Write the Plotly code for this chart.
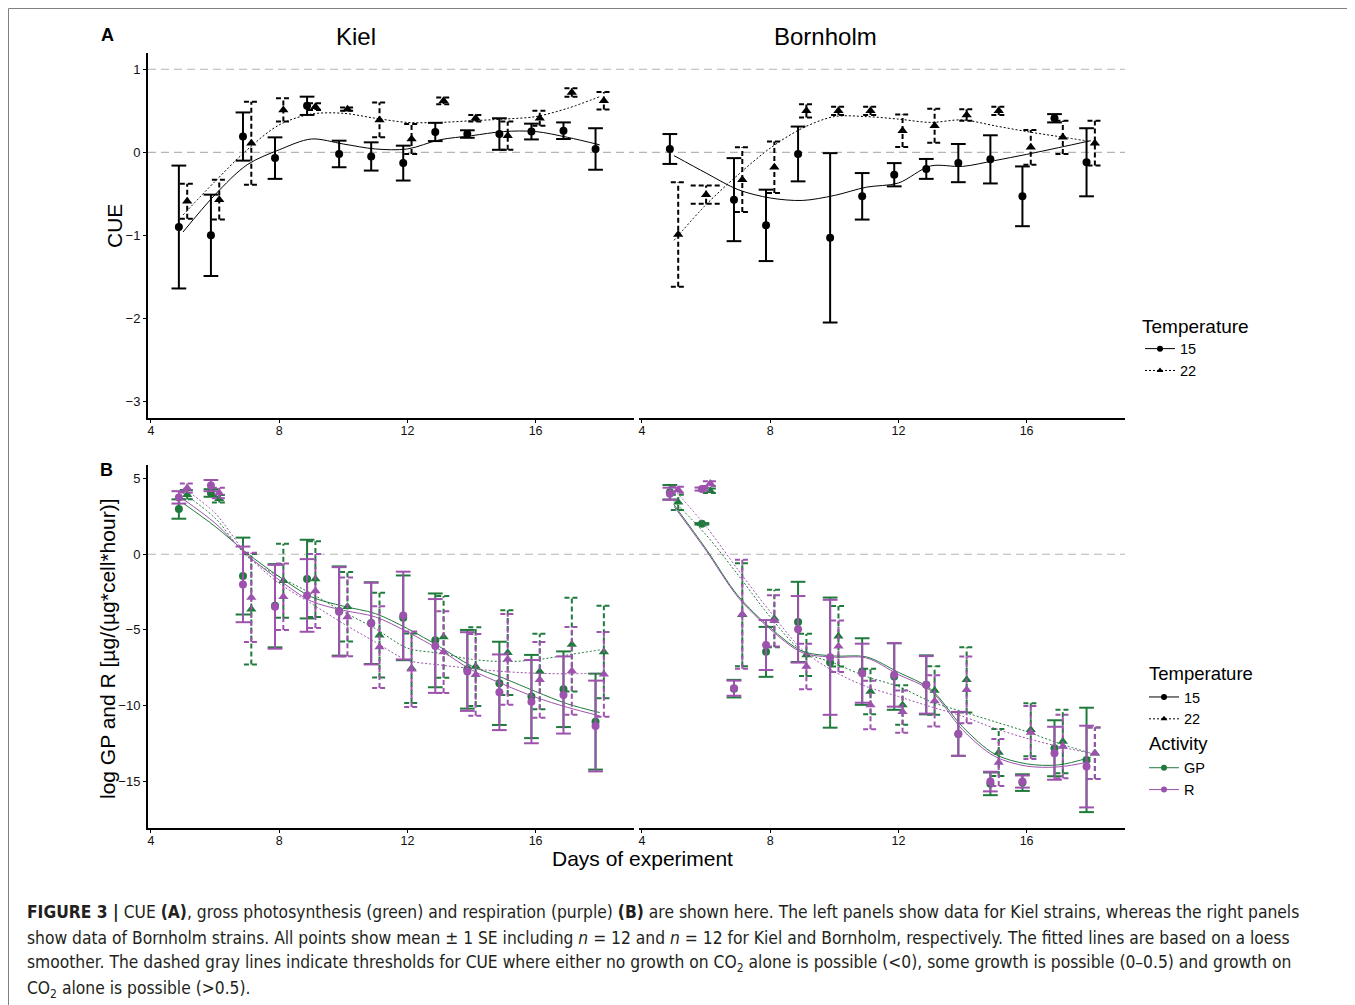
import plotly.graph_objects as go

# ---------------- DATA ----------------
days = list(range(5, 19))
x_ticks = [4, 8, 12, 16]
ticks_cue = [-3, -2, -1, 0, 1]
ticks_log = [-15, -10, -5, 0, 5]

# Panel A: CUE, Kiel
cue_kiel_15 = [-0.90, -1.00, 0.19, -0.07, 0.56, -0.02, -0.05, -0.13, 0.245, 0.22, 0.22, 0.25, 0.26, 0.04]
cue_kiel_15_se = [0.74, 0.49, 0.29, 0.25, 0.11, 0.16, 0.17, 0.21, 0.11, 0.045, 0.19, 0.095, 0.10, 0.25]
cue_kiel_22 = [-0.59, -0.57, 0.11, 0.51, 0.55, 0.52, 0.39, 0.16, 0.62, 0.41, 0.20, 0.41, 0.72, 0.62]
cue_kiel_22_se = [0.21, 0.24, 0.50, 0.14, 0.04, 0.02, 0.21, 0.18, 0.04, 0.04, 0.17, 0.09, 0.05, 0.105]
cue_kiel_15_fit = [-0.96, -0.51, -0.15, 0.03, 0.16, 0.10, 0.04, 0.04, 0.15, 0.20, 0.25, 0.25, 0.18, 0.09]
cue_kiel_22_fit = [-0.755, -0.35, 0.03, 0.33, 0.46, 0.47, 0.41, 0.36, 0.36, 0.38, 0.40, 0.43, 0.53, 0.67]

# Panel A: CUE, Bornholm
cue_born_15 = [0.04, None, -0.57, -0.88, -0.02, -1.03, -0.53, -0.27, -0.20, -0.13, -0.085, -0.53, 0.41, -0.12]
cue_born_15_se = [0.18, None, 0.50, 0.43, 0.33, 1.02, 0.28, 0.14, 0.12, 0.23, 0.29, 0.36, 0.05, 0.41]
cue_born_22 = [-0.99, -0.51, -0.33, -0.18, 0.50, 0.50, 0.50, 0.26, 0.32, 0.45, 0.50, 0.06, 0.18, 0.11]
cue_born_22_se = [0.63, 0.11, 0.39, 0.31, 0.08, 0.05, 0.05, 0.195, 0.205, 0.07, 0.05, 0.21, 0.20, 0.27]
cue_born_15_fit = [-0.04, -0.25, -0.45, -0.55, -0.58, -0.52, -0.42, -0.37, -0.165, -0.17, -0.10, -0.025, 0.056, 0.14]
cue_born_22_fit = [-1.06, -0.63, -0.27, 0.05, 0.29, 0.43, 0.43, 0.40, 0.36, 0.39, 0.32, 0.25, 0.19, 0.13]

# Panel B: log GP and R, Kiel
gp_kiel_15 = [2.99, 4.05, -1.44, -3.40, -1.64, -3.75, -4.55, -4.20, -5.69, -7.60, -8.53, -9.40, -8.92, -11.06]
gp_kiel_15_se = [0.64, 0.25, 2.54, 2.75, 2.6, 2.95, 2.7, 2.8, 3.1, 2.6, 2.75, 2.75, 2.5, 3.17]
r_kiel_15 = [3.76, 4.54, -1.99, -3.47, -2.72, -3.80, -4.58, -4.05, -6.06, -7.75, -9.12, -9.74, -9.30, -11.35]
r_kiel_15_se = [0.41, 0.37, 2.5, 2.77, 2.4, 2.95, 2.7, 2.9, 3.1, 2.6, 2.5, 2.75, 2.55, 3.0]
gp_kiel_22 = [3.94, 3.67, -3.63, -1.75, -1.64, -3.47, -5.35, -7.53, -5.46, -7.42, -6.50, -7.75, -5.97, -6.46]
gp_kiel_22_se = [0.3, 0.25, 3.65, 2.45, 2.5, 2.3, 2.8, 2.3, 2.7, 2.6, 2.8, 2.5, 3.1, 3.05]
r_kiel_22 = [4.38, 4.05, -2.85, -2.81, -2.43, -4.14, -6.13, -7.60, -6.46, -7.97, -6.94, -8.30, -7.71, -7.93]
r_kiel_22_se = [0.3, 0.35, 2.95, 2.2, 2.45, 2.6, 2.7, 2.5, 2.7, 2.7, 3.0, 2.5, 2.9, 2.8]
gp_kiel_15_fit = [3.38, 1.84, 0.07, -1.48, -2.81, -3.43, -3.92, -4.91, -6.1, -7.38, -8.19, -9.07, -9.89, -10.46]
r_kiel_15_fit = [3.65, 2.06, -0.04, -1.70, -3.10, -3.70, -4.14, -5.13, -6.3, -7.64, -8.60, -9.45, -10.12, -10.68]
gp_kiel_22_fit = [4.05, 2.39, -0.15, -1.48, -2.59, -3.80, -4.91, -6.20, -6.54, -6.94, -7.09, -6.98, -6.65, -6.32]
r_kiel_22_fit = [4.38, 2.72, -0.04, -1.92, -3.25, -4.58, -5.80, -7.00, -7.31, -7.55, -7.75, -7.86, -7.90, -7.86]

# Panel B: log GP and R, Bornholm
gp_born_15 = [4.10, 2.01, -8.88, -6.45, -4.47, -7.16, -7.75, -8.08, -8.63, -11.87, -15.17, -15.09, -12.82, -13.59]
gp_born_15_se = [0.48, 0.05, 0.58, 1.65, 2.65, 4.3, 2.2, 2.2, 1.95, 1.45, 0.75, 0.55, 1.85, 3.45]
r_born_15 = [4.00, 4.31, -8.85, -6.00, -4.96, -6.81, -7.86, -7.97, -8.63, -11.87, -15.02, -15.02, -13.15, -14.03]
r_born_15_se = [0.40, 0.10, 0.50, 1.65, 2.2, 3.8, 1.95, 2.1, 1.9, 1.45, 0.65, 0.4, 1.75, 2.7]
gp_born_22 = [3.43, 4.20, -4.00, -4.25, -6.65, -5.42, -9.07, -9.96, -9.00, -8.30, -13.10, -11.60, -12.37, -13.15]
gp_born_22_se = [0.5, 0.15, 3.4, 1.9, 1.4, 2.0, 1.5, 1.3, 1.6, 2.15, 1.55, 1.75, 2.1, 1.7]
r_born_22 = [4.27, 4.67, -3.96, -4.40, -7.42, -6.08, -9.96, -10.40, -9.69, -8.96, -13.76, -11.78, -12.70, -13.15]
r_born_22_se = [0.2, 0.15, 3.6, 1.7, 1.5, 1.7, 1.6, 1.4, 1.7, 2.2, 1.55, 1.75, 2.1, 1.7]
gp_born_15_fit = [3.27, 0.35, -2.75, -4.85, -6.40, -6.72, -6.78, -7.80, -8.90, -11.40, -13.20, -13.85, -13.92, -13.41]
r_born_15_fit = [3.16, 0.25, -2.85, -4.95, -6.50, -6.80, -6.85, -7.95, -9.00, -11.60, -13.35, -14.00, -14.05, -13.70]
gp_born_22_fit = [3.50, 1.28, -1.37, -4.14, -6.40, -7.20, -8.08, -8.74, -9.73, -10.40, -11.06, -11.72, -12.49, -13.15]
r_born_22_fit = [4.27, 1.84, -1.04, -3.80, -6.30, -7.75, -8.74, -9.40, -10.07, -10.70, -11.50, -12.16, -12.70, -13.15]

# ---------------- STYLE ----------------
PAGE_MARGIN = 8          # default body margin of the html page
W, H = 1355 - PAGE_MARGIN, 1005 - PAGE_MARGIN
BLACK = "#000000"
GREEN = "#1f7a3b"
PURPLE = "#9d52ad"
DODGE = 0.13
CAP = 0.23
FONT = "Liberation Sans, Arial, Helvetica, sans-serif"
CAPTION_FONT = "Liberation Sans Narrow, DejaVu Sans Condensed, Arial Narrow, sans-serif"


def px_x(p):
    return (p - PAGE_MARGIN) / W


def px_y(p):
    return 1 - (p - PAGE_MARGIN) / H


fig = go.Figure()


def errbar_xy(mean, se, offset, partner):
    xs, ys = [], []
    for d, m, s, pm in zip(days, mean, se, partner):
        if m is None:
            continue
        off, cap = (offset, CAP) if pm is not None else (0.0, 2 * CAP + 0.02)
        x = d + off
        lo, hi = m - s, m + s
        xs += [x, x, None, x - cap, x + cap, None, x - cap, x + cap, None]
        ys += [lo, hi, None, hi, hi, None, lo, lo, None]
    return xs, ys


def points_xy(mean, offset, partner):
    xs, ys = [], []
    for d, m, pm in zip(days, mean, partner):
        if m is None:
            continue
        xs.append(d + (offset if pm is not None else 0.0))
        ys.append(m)
    return xs, ys


def add_series(xa, ya, mean, se, fit, partner, temp, color):
    offset = -DODGE if temp == 15 else DODGE
    dash_bar = "solid" if temp == 15 else "5px,3px"
    dash_fit = "solid" if temp == 15 else "2px,2px"
    symbol = "circle" if temp == 15 else "triangle-up"
    ex, ey = errbar_xy(mean, se, offset, partner)
    fig.add_trace(go.Scatter(x=ex, y=ey, mode="lines", xaxis=xa, yaxis=ya,
                             line=dict(color=color, width=2, dash=dash_bar),
                             showlegend=False, hoverinfo="skip"))
    fig.add_trace(go.Scatter(x=days, y=fit, mode="lines", xaxis=xa, yaxis=ya,
                             line=dict(color=color, width=1, dash=dash_fit, shape="spline", smoothing=0.9),
                             showlegend=False, hoverinfo="skip"))
    px_, py_ = points_xy(mean, offset, partner)
    fig.add_trace(go.Scatter(x=px_, y=py_, mode="markers", xaxis=xa, yaxis=ya,
                             marker=dict(color=color, symbol=symbol, size=8 if temp == 15 else 9),
                             showlegend=False))


# Panel A
add_series("x", "y", cue_kiel_15, cue_kiel_15_se, cue_kiel_15_fit, cue_kiel_22, 15, BLACK)
add_series("x", "y", cue_kiel_22, cue_kiel_22_se, cue_kiel_22_fit, cue_kiel_15, 22, BLACK)
add_series("x2", "y2", cue_born_15, cue_born_15_se, cue_born_15_fit, cue_born_22, 15, BLACK)
add_series("x2", "y2", cue_born_22, cue_born_22_se, cue_born_22_fit, cue_born_15, 22, BLACK)

# Panel B
add_series("x3", "y3", gp_kiel_15, gp_kiel_15_se, gp_kiel_15_fit, gp_kiel_22, 15, GREEN)
add_series("x3", "y3", gp_kiel_22, gp_kiel_22_se, gp_kiel_22_fit, gp_kiel_15, 22, GREEN)
add_series("x3", "y3", r_kiel_15, r_kiel_15_se, r_kiel_15_fit, r_kiel_22, 15, PURPLE)
add_series("x3", "y3", r_kiel_22, r_kiel_22_se, r_kiel_22_fit, r_kiel_15, 22, PURPLE)
add_series("x4", "y4", gp_born_15, gp_born_15_se, gp_born_15_fit, gp_born_22, 15, GREEN)
add_series("x4", "y4", gp_born_22, gp_born_22_se, gp_born_22_fit, gp_born_15, 22, GREEN)
add_series("x4", "y4", r_born_15, r_born_15_se, r_born_15_fit, r_born_22, 15, PURPLE)
add_series("x4", "y4", r_born_22, r_born_22_se, r_born_22_fit, r_born_15, 22, PURPLE)


# Legend entries
def legend_entry(name, color, dash, symbol, legend, group=None, gtitle=None):
    kw = {}
    if group:
        kw = dict(legendgroup=group, legendgrouptitle=dict(text=gtitle, font=dict(size=18.5, color="#000")))
    fig.add_trace(go.Scatter(x=[None], y=[None], mode="lines+markers", name=name,
                             line=dict(color=color, width=1, dash=dash),
                             marker=dict(color=color, symbol=symbol, size=6),
                             legend=legend, **kw))


legend_entry("15", BLACK, "solid", "circle", "legend")
legend_entry("22", BLACK, "2px,2px", "triangle-up", "legend")
legend_entry("15", BLACK, "solid", "circle", "legend2", "temp", "Temperature")
legend_entry("22", BLACK, "2px,2px", "triangle-up", "legend2", "temp", "Temperature")
legend_entry("GP", GREEN, "solid", "circle", "legend2", "act", "Activity")
legend_entry("R", PURPLE, "solid", "circle", "legend2", "act", "Activity")

# Axes
xr = [3.907, 19.07]
yrA = [-3.2, 1.196]
yrB = [-18.09, 5.90]
dom_left = [px_x(148), px_x(634)]
dom_right = [px_x(639), px_x(1125)]
dom_A = [px_y(418), px_y(53)]
dom_B = [px_y(828), px_y(465)]

xcommon = dict(range=xr, tickvals=x_ticks, ticks="outside", ticklen=3, tickcolor="#000",
               showline=True, linecolor="#000", linewidth=2, showgrid=False, zeroline=False,
               tickfont=dict(size=12.5, color="#111"), ticklabelstandoff=-3, fixedrange=True)
ycommon = dict(ticks="outside", ticklen=3, tickcolor="#000", showline=True, linecolor="#000",
               linewidth=2, showgrid=False, zeroline=False, tickfont=dict(size=13, color="#111"))
yhidden = dict(showline=False, ticks="", showticklabels=False, showgrid=False, zeroline=False)

fig.update_layout(
    xaxis=dict(domain=dom_left, anchor="y", **xcommon),
    xaxis2=dict(domain=dom_right, anchor="y2", **xcommon),
    xaxis3=dict(domain=dom_left, anchor="y3", **xcommon),
    xaxis4=dict(domain=dom_right, anchor="y4", **xcommon),
    yaxis=dict(domain=dom_A, anchor="x", range=yrA, tickvals=ticks_cue, **ycommon),
    yaxis2=dict(domain=dom_A, anchor="x2", range=yrA, **yhidden),
    yaxis3=dict(domain=dom_B, anchor="x3", range=yrB, tickvals=ticks_log, **ycommon),
    yaxis4=dict(domain=dom_B, anchor="x4", range=yrB, **yhidden),
)

# Threshold lines
shapes = []
for xa, ya, vals in [("x", "y", [1, 0]), ("x2", "y2", [1, 0]), ("x3", "y3", [0]), ("x4", "y4", [0])]:
    for v in vals:
        shapes.append(dict(type="line", xref=f"{xa} domain", yref=ya, x0=0, x1=1, y0=v, y1=v,
                           line=dict(color="#b5b5b5", width=1.2, dash="8px,5px"), layer="below"))
# figure frame
shapes.append(dict(type="rect", xref="paper", yref="paper", x0=px_x(8.5), x1=1.02,
                   y0=-0.02, y1=px_y(8.5), line=dict(color="#808080", width=1)))

annotations = [
    dict(text="<b>A</b>", x=px_x(107), y=px_y(35), font=dict(size=18)),
    dict(text="<b>B</b>", x=px_x(106), y=px_y(470), font=dict(size=18)),
    dict(text="Kiel", x=px_x(356), y=px_y(36), font=dict(size=24)),
    dict(text="Bornholm", x=px_x(826), y=px_y(36), font=dict(size=24)),
    dict(text="CUE", x=px_x(115), y=px_y(226), textangle=-90, font=dict(size=21)),
    dict(text="log GP and R [µg/(µg*cell*hour)]", x=px_x(107), y=px_y(649), textangle=-90, font=dict(size=21)),
    dict(text="Days of experiment", x=px_x(642), y=px_y(858), font=dict(size=21)),
]
for a in annotations:
    a.update(xref="paper", yref="paper", showarrow=False, xanchor="center", yanchor="middle")
    a["font"].update(family=FONT, color="#000")

caption_lines = [
    "<b>FIGURE 3 |</b> CUE <b>(A)</b>, gross photosynthesis (green) and respiration (purple) <b>(B)</b> are shown here. The left panels show data for Kiel strains, whereas the right panels",
    "show data of Bornholm strains. All points show mean ± 1 SE including <i>n</i> = 12 and <i>n</i> = 12 for Kiel and Bornholm, respectively. The fitted lines are based on a loess",
    "smoother. The dashed gray lines indicate thresholds for CUE where either no growth on CO<sub>2</sub> alone is possible (&lt;0), some growth is possible (0–0.5) and growth on",
    "CO<sub>2</sub> alone is possible (&gt;0.5).",
]
for i, line in enumerate(caption_lines):
    annotations.append(dict(text=line, xref="paper", yref="paper", x=px_x(25), y=px_y([912, 938, 963, 989][i]),
                            xanchor="left", yanchor="middle", showarrow=False,
                            font=dict(family=CAPTION_FONT, size=17.3, color="#231f20")))

fig.update_layout(
    width=W, height=H,
    margin=dict(l=0, r=0, t=0, b=0),
    paper_bgcolor="white", plot_bgcolor="white",
    font=dict(family=FONT, color="#000"),
    shapes=shapes,
    annotations=annotations,
    legend=dict(x=px_x(1140), y=px_y(308), xanchor="left", yanchor="top",
                title=dict(text="Temperature", font=dict(size=19, color="#000")),
                font=dict(size=14.5, color="#000"), bgcolor="rgba(0,0,0,0)", itemwidth=30),
    legend2=dict(x=px_x(1144), y=px_y(654), xanchor="left", yanchor="top",
                 traceorder="grouped", tracegroupgap=0,
                 font=dict(size=14.5, color="#000"), bgcolor="rgba(0,0,0,0)", itemwidth=30),
)

fig.write_html("out.html")
